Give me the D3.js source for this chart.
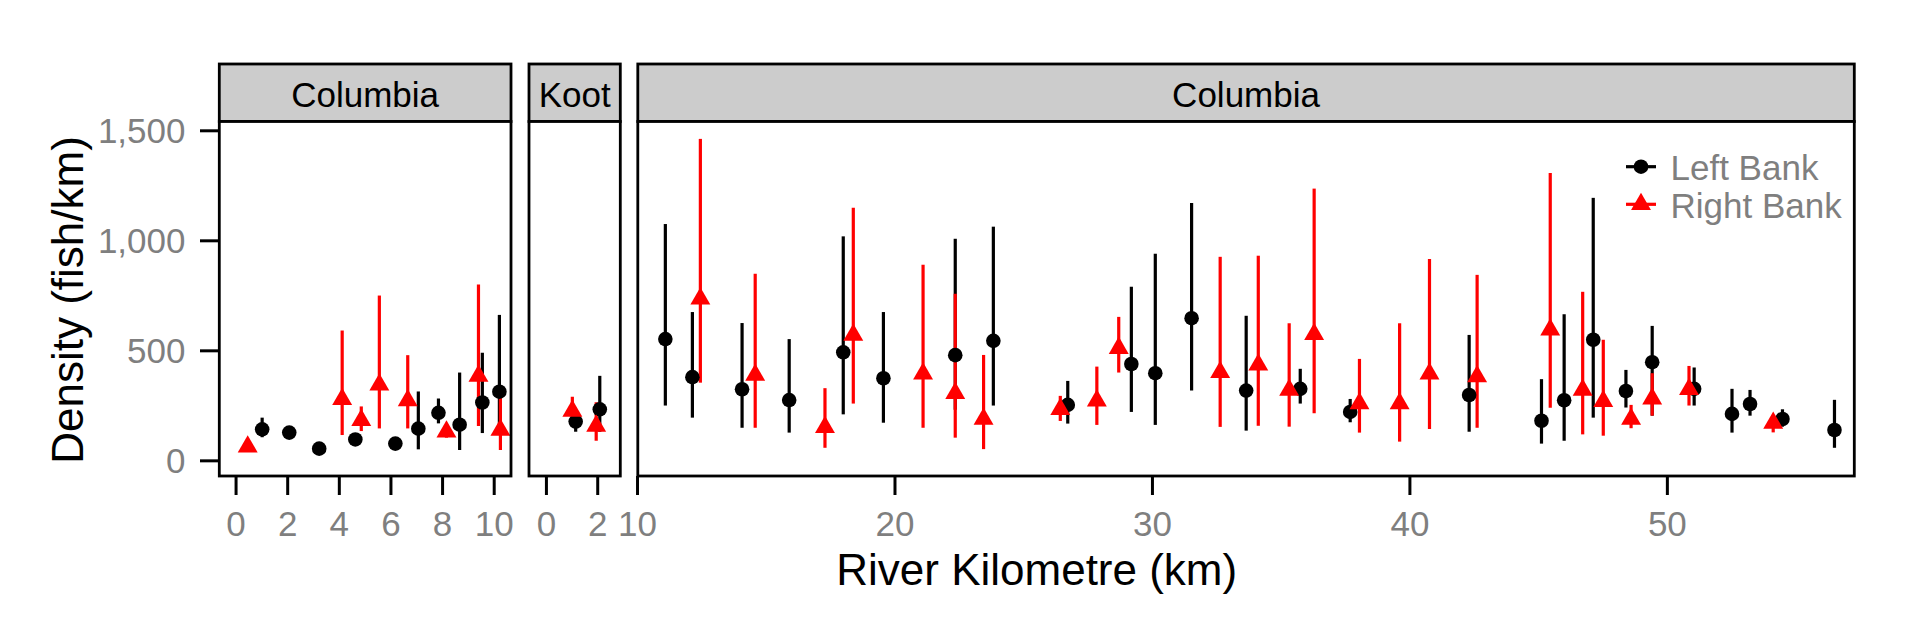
<!DOCTYPE html>
<html>
<head>
<meta charset="utf-8">
<script src="https://cdn.jsdelivr.net/npm/d3@7"></script>
<style>
  html, body { margin: 0; padding: 0; background: #ffffff; }
  svg { display: block; }
  text { font-family: "Liberation Sans", Arial, sans-serif; }
</style>
</head>
<body>
<svg id="chart" width="1920" height="633"></svg>
<script>
// ---------------- DATA ----------------
const facetLabels = ["Columbia", "Koot", "Columbia"];
const seriesNames = ["Left Bank", "Right Bank"];
const seriesColors = ["#000000", "#ff0000"];

// Facet 1: Columbia (upstream)
const f1LeftKm    = [1.03, 2.08, 3.24, 4.64, 6.19, 7.08, 7.86, 8.68, 9.56, 10.22];
const f1LeftDens  = [141, 126, 53, 95, 76, 144, 216, 162, 263, 312];
const f1LeftLo    = [105, 105, 40, 80, 62, 50, 168, 47, 124, 126];
const f1LeftHi    = [194, 150, 66, 112, 90, 313, 281, 399, 489, 661];
const f1RightKm   = [0.47, 4.13, 4.87, 5.57, 6.67, 8.17, 9.41, 10.26];
const f1RightDens = [62, 278, 182, 343, 272, 130, 383, 138];
const f1RightLo   = [50, 115, 133, 145, 145, 103, 156, 47];
const f1RightHi   = [75, 590, 245, 749, 478, 160, 799, 322];

// Facet 2: Koot
const f2LeftKm    = [1.16, 2.10];
const f2LeftDens  = [176, 232];
const f2LeftLo    = [130, 130];
const f2LeftHi    = [200, 384];
const f2RightKm   = [1.03, 1.96];
const f2RightDens = [224, 156];
const f2RightLo   = [179, 89];
const f2RightHi   = [289, 264];

// Facet 3: Columbia (downstream)
const f3LeftKm    = [11.10, 12.15, 14.08, 15.91, 18.01, 19.57, 22.36, 23.84, 26.73, 29.20, 30.13, 31.54, 33.66, 35.76, 37.70, 42.32, 45.13, 46.01, 47.14, 48.41, 49.43, 51.06, 52.53, 53.23, 54.49, 56.51];
const f3LeftDens  = [551, 378, 323, 274, 491, 373, 478, 543, 252, 438, 396, 646, 317, 325, 220, 297, 180, 273, 548, 315, 446, 325, 211, 256, 188, 138];
const f3LeftLo    = [249, 194, 148, 126, 209, 171, 230, 249, 167, 220, 161, 317, 135, 258, 173, 130, 76, 89, 194, 240, 203, 249, 126, 203, 153, 57];
const f3LeftHi    = [1074, 674, 624, 551, 1018, 674, 1007, 1062, 361, 789, 939, 1170, 657, 416, 279, 570, 369, 664, 1193, 411, 611, 422, 325, 320, 232, 275];
const f3RightKm   = [12.46, 14.59, 17.30, 18.40, 21.11, 22.36, 23.46, 26.44, 27.86, 28.71, 32.65, 34.13, 35.33, 36.30, 38.06, 39.62, 40.78, 42.63, 45.47, 46.73, 47.53, 48.61, 49.43, 50.86, 54.13];
const f3RightDens = [734, 388, 150, 570, 393, 305, 188, 232, 271, 510, 400, 434, 320, 573, 258, 258, 393, 381, 593, 320, 268, 188, 280, 323, 170];
const f3RightLo   = [353, 148, 57, 258, 148, 103, 51, 179, 161, 399, 152, 157, 153, 214, 126, 85, 142, 148, 239, 118, 112, 146, 203, 249, 127];
const f3RightHi   = [1461, 848, 328, 1148, 889, 757, 479, 293, 426, 652, 925, 930, 623, 1235, 461, 623, 915, 843, 1306, 766, 548, 252, 396, 429, 186];

// Tick values / labels
const xTicksF1 = [0, 2, 4, 6, 8, 10];
const xTicksF2 = [0, 2];
const xTicksF3 = [10, 20, 30, 40, 50];
const yTicks   = [0, 500, 1000, 1500];
const xTitle = "River Kilometre (km)";
const yTitle = "Density (fish/km)";

// ---------------- LAYOUT ----------------
const panelTop = 121.5, panelBottom = 476, stripTop = 64;
const facetLayout = [
  { x0: 219.3, x1: 511,    domain: [-0.63, 10.67] },
  { x0: 529,   x1: 620.3,  domain: [-0.66, 2.9] },
  { x0: 637.8, x1: 1854.3, domain: [10.03, 57.28] }
];
const facetData = [
  { ticks: xTicksF1,
    left:  { km: f1LeftKm, d: f1LeftDens, lo: f1LeftLo, hi: f1LeftHi },
    right: { km: f1RightKm, d: f1RightDens, lo: f1RightLo, hi: f1RightHi } },
  { ticks: xTicksF2,
    left:  { km: f2LeftKm, d: f2LeftDens, lo: f2LeftLo, hi: f2LeftHi },
    right: { km: f2RightKm, d: f2RightDens, lo: f2RightLo, hi: f2RightHi } },
  { ticks: xTicksF3,
    left:  { km: f3LeftKm, d: f3LeftDens, lo: f3LeftLo, hi: f3LeftHi },
    right: { km: f3RightKm, d: f3RightDens, lo: f3RightLo, hi: f3RightHi } }
];

const grey = "#7f7f7f";
const borderW = 2.8, barW = 3.2, tickW = 3;
const tickFont = 35, titleFont = 44;
const circleArea = Math.PI * 7.3 * 7.3;
const triArea = 172;

const svg = d3.select("#chart");
svg.append("rect").attr("width", 1920).attr("height", 633).attr("fill", "#fff");

const y = d3.scaleLinear().domain([-71.2, 1540]).range([panelBottom, panelTop]);

const toRows = s => s.km.map((k, i) => ({ km: k, d: s.d[i], lo: s.lo[i], hi: s.hi[i] }));

facetLayout.forEach((L, fi) => {
  const F = facetData[fi];
  const x = d3.scaleLinear().domain(L.domain).range([L.x0, L.x1]);
  const g = svg.append("g");

  // strip
  g.append("rect")
    .attr("x", L.x0).attr("y", stripTop)
    .attr("width", L.x1 - L.x0).attr("height", panelTop - stripTop)
    .attr("fill", "#cccccc").attr("stroke", "#000").attr("stroke-width", borderW);
  g.append("text")
    .attr("x", (L.x0 + L.x1) / 2).attr("y", 106.5)
    .attr("text-anchor", "middle")
    .attr("font-size", tickFont).attr("fill", "#000")
    .text(facetLabels[fi]);

  // panel background
  g.append("rect")
    .attr("x", L.x0).attr("y", panelTop)
    .attr("width", L.x1 - L.x0).attr("height", panelBottom - panelTop)
    .attr("fill", "#fff");

  // x axis
  const ax = g.append("g")
    .attr("transform", `translate(0,${panelBottom})`)
    .call(d3.axisBottom(x).tickValues(F.ticks).tickFormat(d3.format("d")).tickSize(19).tickSizeOuter(0));
  ax.select(".domain").remove();
  ax.selectAll(".tick line").attr("stroke", "#000").attr("stroke-width", tickW);
  ax.selectAll(".tick text")
    .attr("y", 59.5).attr("dy", null)
    .attr("font-size", tickFont).attr("fill", grey)
    .attr("font-family", "Liberation Sans, Arial, sans-serif");

  // data: bars first (left then right), then points
  const series = [toRows(F.left), toRows(F.right)];
  const pg = g.append("g");
  series.forEach((rows, si) => {
    pg.selectAll(null).data(rows).enter().append("line")
      .attr("x1", d => x(d.km)).attr("x2", d => x(d.km))
      .attr("y1", d => y(d.lo)).attr("y2", d => y(d.hi))
      .attr("stroke", seriesColors[si]).attr("stroke-width", barW);
  });
  series.forEach((rows, si) => {
    const sym = d3.symbol().type(si === 0 ? d3.symbolCircle : d3.symbolTriangle)
                  .size(si === 0 ? circleArea : triArea);
    pg.selectAll(null).data(rows).enter().append("path")
      .attr("d", sym)
      .attr("transform", d => `translate(${x(d.km)},${y(d.d)})`)
      .attr("fill", seriesColors[si]);
  });

  // panel border
  g.append("rect")
    .attr("x", L.x0).attr("y", panelTop)
    .attr("width", L.x1 - L.x0).attr("height", panelBottom - panelTop)
    .attr("fill", "none").attr("stroke", "#000").attr("stroke-width", borderW);
});

// y axis (left of first panel)
const ay = svg.append("g")
  .attr("transform", `translate(${facetLayout[0].x0 - 1.3},0)`)
  .call(d3.axisLeft(y).tickValues(yTicks).tickFormat(d3.format(",")).tickSize(18).tickSizeOuter(0));
ay.select(".domain").remove();
ay.selectAll(".tick line").attr("stroke", "#000").attr("stroke-width", tickW);
ay.selectAll(".tick text")
  .attr("x", -32.5).attr("dy", "0.36em")
  .attr("font-size", tickFont).attr("fill", grey)
  .attr("font-family", "Liberation Sans, Arial, sans-serif");

// axis titles
svg.append("text")
  .attr("x", 1036.7).attr("y", 585)
  .attr("text-anchor", "middle").attr("font-size", titleFont).attr("fill", "#000")
  .text(xTitle);
svg.append("text")
  .attr("transform", "translate(83.3,300) rotate(-90)")
  .attr("text-anchor", "middle").attr("font-size", titleFont).attr("fill", "#000")
  .text(yTitle);

// legend
const legend = svg.append("g");
const legY = [166.7, 204.3];
seriesNames.forEach((name, i) => {
  legend.append("line")
    .attr("x1", 1626).attr("x2", 1656).attr("y1", legY[i]).attr("y2", legY[i])
    .attr("stroke", seriesColors[i]).attr("stroke-width", barW);
  legend.append("path")
    .attr("d", d3.symbol().type(i === 0 ? d3.symbolCircle : d3.symbolTriangle).size(i === 0 ? circleArea : triArea))
    .attr("transform", `translate(1641,${legY[i]})`)
    .attr("fill", seriesColors[i]);
  legend.append("text")
    .attr("x", 1670.5).attr("y", legY[i] + 13.6)
    .attr("font-size", tickFont).attr("fill", grey)
    .text(name);
});
</script>
</body>
</html>
